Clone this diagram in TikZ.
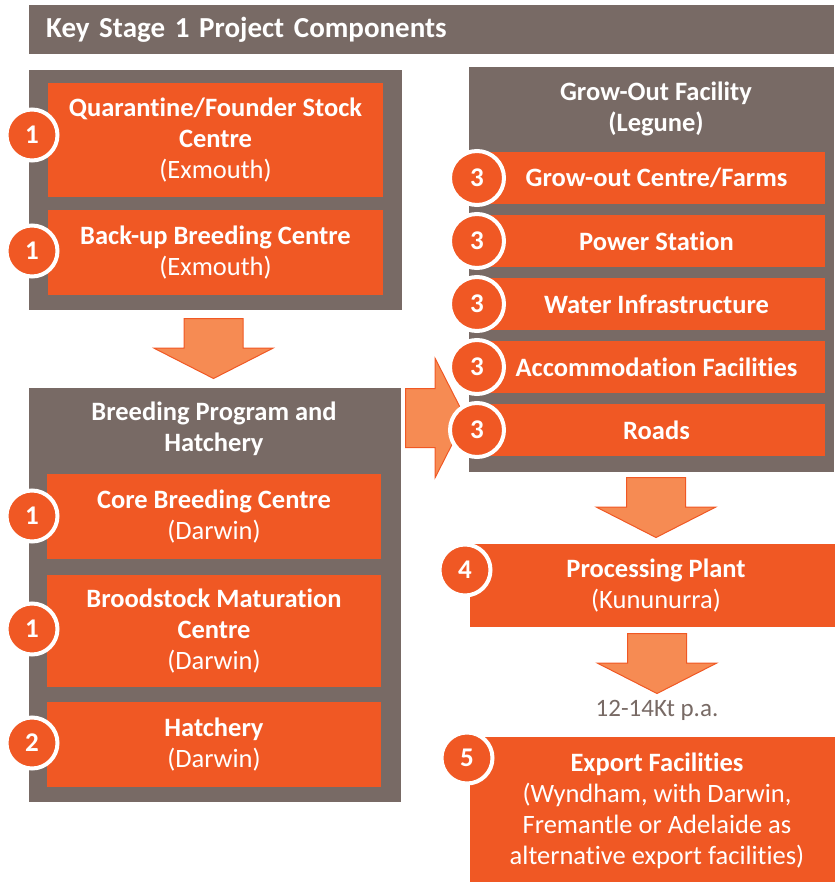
\documentclass[tikz,border=0pt]{standalone}
\usepackage{fontspec}
\setmainfont{Carlito}[Ligatures=NoCommon]
\usetikzlibrary{shapes.arrows}
\definecolor{kgrey}{RGB}{120,106,101}
\definecolor{korange}{RGB}{240,88,36}
\definecolor{karrow}{RGB}{246,139,83}

\begin{document}
\begin{tikzpicture}[x=1pt,y=-1pt,
  box/.style={rectangle,inner sep=0pt,text=white,align=center,font=\fontsize{26.5}{31}\selectfont\bfseries},
  grey box/.style={box,fill=kgrey},
  orange box/.style={box,fill=korange},
  num node/.style={circle,fill=korange,draw=white,line width=4pt,minimum size=51pt,inner sep=0pt,text=white,font=\fontsize{27}{31}\selectfont\bfseries},
  block arrow/.style={single arrow,fill=karrow,draw=korange,line width=1pt,anchor=tail,inner xsep=0pt,inner ysep=29pt,minimum height=60pt,single arrow head extend=30pt,single arrow tip angle=126}]
    \useasboundingbox (0,0) rectangle (834,882);

    \node[grey box,anchor=north west,minimum width=805pt,minimum height=49pt,text width=771pt,align=left,font=\fontsize{29}{34}\selectfont\bfseries] (title) at (29,5) {Key Stage 1 Project Components};

    \node[grey box,minimum width=373pt,minimum height=240pt] (quarbox) at (215.5,190) {};
    \node[orange box,minimum width=335pt,minimum height=114pt] (quar) at (215.5,140) {Quarantine/Founder Stock\\Centre\\{\mdseries (Exmouth)}};
    \node[orange box,minimum width=335pt,minimum height=85pt] (backup) at (215.5,252.5) {Back-up Breeding Centre\\{\mdseries (Exmouth)}};
    \node[num node] (n1) at (32,135) {1};
    \node[num node] (n2) at (32,251) {1};

    \node[block arrow,rotate=-90] (a1) at (213.5,318) {};

    \node[grey box,minimum width=372pt,minimum height=414pt] (breedbox) at (215,595) {};
    \node[box] (breedtitle) at (214,429) {Breeding Program and\\Hatchery};
    \node[orange box,minimum width=334pt,minimum height=85pt] (core) at (214,516.5) {Core Breeding Centre\\{\mdseries (Darwin)}};
    \node[orange box,minimum width=334pt,minimum height=112pt] (brood) at (214,631) {Broodstock Maturation\\Centre\\{\mdseries (Darwin)}};
    \node[orange box,minimum width=334pt,minimum height=85pt] (hatch) at (214,744.5) {Hatchery\\{\mdseries (Darwin)}};
    \node[num node] (n3) at (32,516) {1};
    \node[num node] (n4) at (32,629) {1};
    \node[num node] (n5) at (32,743) {2};

    \node[block arrow] (a2) at (405,418) {};

    \node[grey box,minimum width=365pt,minimum height=405pt] (growbox) at (651.5,269.5) {};
    \node[box] (growtitle) at (656,109) {Grow-Out Facility\\(Legune)};
    \node[orange box,minimum width=337pt,minimum height=52pt] (farms) at (656.5,178) {Grow-out Centre/Farms};
    \node[orange box,minimum width=337pt,minimum height=52pt] (power) at (656.5,241) {Power Station};
    \node[orange box,minimum width=337pt,minimum height=52pt] (water) at (656.5,304) {Water Infrastructure};
    \node[orange box,minimum width=337pt,minimum height=52pt] (accom) at (656.5,367) {Accommodation Facilities};
    \node[orange box,minimum width=337pt,minimum height=52pt] (roads) at (656.5,430) {Roads};
    \node[num node,minimum size=54pt] (n6) at (477,178) {3};
    \node[num node,minimum size=54pt] (n7) at (477,241) {3};
    \node[num node,minimum size=54pt] (n8) at (477,304) {3};
    \node[num node,minimum size=54pt] (n9) at (477,367) {3};
    \node[num node,minimum size=54pt] (n10) at (477,430) {3};

    \node[block arrow,rotate=-90] (a3) at (656,477) {};

    \node[orange box,minimum width=372pt,minimum height=83pt] (plant) at (656,585.5) {Processing Plant\\{\mdseries (Kununurra)}};
    \node[num node] (n11) at (465,570) {4};

    \node[block arrow,rotate=-90] (a4) at (657,633) {};
    \node[text=kgrey,font=\fontsize{25}{30}\selectfont] (tonnes) at (657,710) {12-14Kt p.a.};

    \node[orange box,minimum width=374pt,minimum height=147pt] (export) at (657,810.5) {Export Facilities\\{\mdseries (Wyndham, with Darwin,}\\{\mdseries Fremantle or Adelaide as}\\{\mdseries alternative export facilities)}};
    \node[num node] (n12) at (467,758) {5};
\end{tikzpicture}
\end{document}
